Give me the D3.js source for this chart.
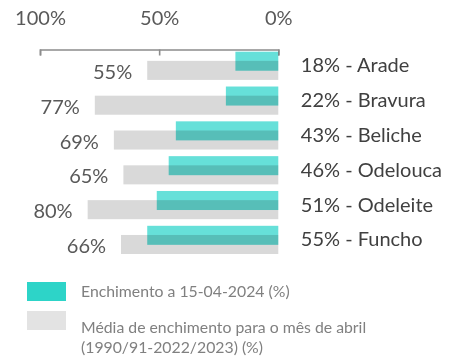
<!DOCTYPE html>
<html>
<head>
<meta charset="utf-8">
<script src="https://cdn.jsdelivr.net/npm/d3@7"></script>
<style>
  html, body { margin: 0; padding: 0; background: #fff; }
  svg { display: block; font-family: Lato, "Open Sans", sans-serif; }
</style>
</head>
<body>
<svg id="chart" width="461" height="358"></svg>
<script>
// Albufeiras do Algarve: enchimento actual vs. média de abril
const reservoirs = ["Arade", "Bravura", "Beliche", "Odelouca", "Odeleite", "Funcho"];
const currentFill = [18, 22, 43, 46, 51, 55];
const aprilAverage = [55, 77, 69, 65, 80, 66];
const axisTicks = [100, 50, 0];
const legendLabels = [
  ["Enchimento a 15-04-2024 (%)"],
  ["Média de enchimento para o mês de abril", "(1990/91-2022/2023) (%)"]
];

const svg = d3.select("#chart");

// bars grow leftwards from 0% at the right
const x = d3.scaleLinear().domain([0, 100]).range([278.3, 40]);

const y = d3.scaleBand()
  .domain(reservoirs)
  .range([51.7, 254])
  .paddingInner(0.19)
  .paddingOuter(0);

const bw = y.bandwidth();
const barH = bw * 0.675;
const shift = bw - barH;

// axis along the top with ticks hanging down
const axis = d3.axisTop(x)
  .tickValues(axisTicks)
  .tickSizeInner(-6)
  .tickSizeOuter(-6)
  .tickFormat(d => d + "%");

const gAxis = svg.append("g")
  .attr("transform", "translate(0,49.5)")
  .call(axis);
gAxis.select(".domain").attr("stroke", "#8c8c8c").attr("stroke-width", 1.6);
gAxis.selectAll(".tick line").attr("stroke", "#8c8c8c").attr("stroke-width", 1.6);
gAxis.selectAll(".tick text")
  .attr("y", -24.5)
  .attr("dy", 0)
  .attr("fill", "#595959")
  .attr("font-size", 20)
  .attr("font-family", "Lato, sans-serif");

const rows = reservoirs.map((name, i) => ({ name, cur: currentFill[i], avg: aprilAverage[i] }));

// average bars (lower, grey)
svg.append("g").selectAll("rect")
  .data(rows).join("rect")
  .attr("x", d => x(d.avg))
  .attr("y", d => y(d.name) + shift)
  .attr("width", d => x(0) - x(d.avg))
  .attr("height", barH)
  .attr("fill", "#d9d9d9");

// current bars (upper, teal) blended over the grey
svg.append("g").selectAll("rect")
  .data(rows).join("rect")
  .attr("x", d => x(d.cur))
  .attr("y", d => y(d.name))
  .attr("width", d => x(0) - x(d.cur))
  .attr("height", barH)
  .attr("fill", "#66e0d9")
  .style("mix-blend-mode", "multiply");

// average value labels left of the grey bars
svg.append("g").selectAll("text")
  .data(rows).join("text")
  .attr("x", d => x(d.avg) - 15)
  .attr("y", d => y(d.name) + shift + barH / 2)
  .attr("dy", "0.43em")
  .attr("text-anchor", "end")
  .attr("fill", "#595959")
  .attr("font-size", 20)
  .text(d => d.avg + "%");

// current value + reservoir name on the right
svg.append("g").selectAll("text")
  .data(rows).join("text")
  .attr("x", x(0) + 22.5)
  .attr("y", d => y(d.name) + bw / 2)
  .attr("dy", "0.33em")
  .attr("fill", "#404040")
  .attr("font-size", 20)
  .text(d => d.cur + "% - " + d.name);

// legend
const legendSwatch = ["#2dd4c8", "#e3e3e3"];
const legendTop = [282, 311];
const legendBaseline = [297, 333];
const lg = svg.append("g");
legendLabels.forEach((lines, i) => {
  lg.append("rect")
    .attr("x", 27).attr("y", legendTop[i])
    .attr("width", 39).attr("height", 19)
    .attr("fill", legendSwatch[i]);
  lines.forEach((t, j) => {
    lg.append("text")
      .attr("x", 81)
      .attr("y", legendBaseline[i] + j * 20)
      .attr("fill", "#808080")
      .attr("font-size", 15.8)
      .text(t);
  });
});
</script>
</body>
</html>
